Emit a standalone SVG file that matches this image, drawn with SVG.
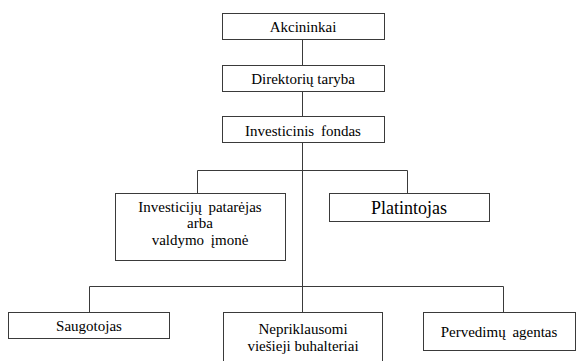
<svg xmlns="http://www.w3.org/2000/svg" width="581" height="361" viewBox="0 0 581 361" font-family="'Liberation Serif', 'Times New Roman', serif">
  <style>
    .box { fill: #ffffff; stroke: #3a3a3a; stroke-width: 1; }
    .t { font-family: 'Times New Roman', 'Liberation Serif', serif; font-size: 15px; text-anchor: middle; }
    .t18 { font-size: 18px; }
    .wire { fill: none; stroke: #3a3a3a; stroke-width: 1; }
  </style>
  <rect width="581" height="361" fill="#ffffff"/>

  <!-- connectors -->
  <g id="connectors">
    <path class="wire" d="M302.5 39 V361"/>
    <path class="wire" d="M197.5 193 V170.5 H407.5 V193"/>
    <path class="wire" d="M89.5 312 V286.5 H503.5 V312"/>
  </g>

  <g id="akcininkai">
    <rect class="box" x="222.5" y="13.5" width="162" height="26"/>
    <text class="t" x="303" y="32">Akcininkai</text>
  </g>

  <g id="direktoriu-taryba">
    <rect class="box" x="222.5" y="65.5" width="162" height="26"/>
    <text class="t" x="303" y="84">Direktorių taryba</text>
  </g>

  <g id="investicinis-fondas">
    <rect class="box" x="222.5" y="116.5" width="162" height="26"/>
    <text class="t" x="303" y="136" word-spacing="3">Investicinis fondas</text>
  </g>

  <g id="patarejas">
    <rect class="box" x="115.5" y="193.5" width="170" height="67"/>
    <text class="t" x="200" y="212" word-spacing="3">Investicijų patarėjas</text>
    <text class="t" x="200" y="228">arba</text>
    <text class="t" x="200" y="245" word-spacing="3">valdymo įmonė</text>
  </g>

  <g id="platintojas">
    <rect class="box" x="329.5" y="193.5" width="160" height="28"/>
    <text class="t t18" x="409" y="214">Platintojas</text>
  </g>

  <g id="saugotojas">
    <rect class="box" x="8.5" y="312.5" width="161" height="26"/>
    <text class="t" x="89" y="331">Saugotojas</text>
  </g>

  <g id="buhalteriai">
    <rect class="box" x="223.5" y="312.5" width="159" height="52"/>
    <text class="t" x="303" y="334">Nepriklausomi</text>
    <text class="t" x="303" y="351">viešieji buhalteriai</text>
  </g>

  <g id="pervedimu-agentas">
    <rect class="box" x="423.5" y="312.5" width="152" height="38"/>
    <text class="t" x="499" y="337" word-spacing="3">Pervedimų agentas</text>
  </g>
</svg>
